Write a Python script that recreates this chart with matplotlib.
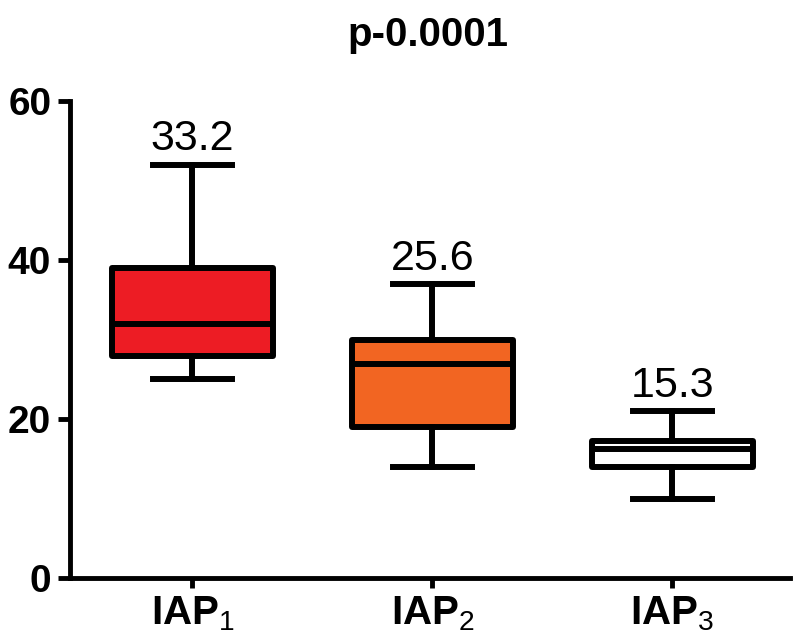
import numpy as np
import matplotlib
matplotlib.use("Agg")
import matplotlib.pyplot as plt

plt.rcParams['font.family'] = ['Liberation Sans', 'DejaVu Sans']
plt.rcParams['mathtext.fontset'] = 'custom'
plt.rcParams['mathtext.rm'] = 'Liberation Sans'
plt.rcParams['mathtext.bf'] = 'Liberation Sans:bold'

groups = [r'$\mathbf{IAP}_{1}$', r'$\mathbf{IAP}_{2}$', r'$\mathbf{IAP}_{3}$']
whislo = [25, 14, 10]
q1 = [28, 19, 14]
med = [32, 27, 16.3]
q3 = [39, 30, 17.2]
whishi = [52, 37, 21]
means = [33.2, 25.6, 15.3]
colors = ['#ED1C24', '#F26522', '#FFFFFF']

stats = []
for i in range(3):
    stats.append(dict(whislo=whislo[i], q1=q1[i], med=med[i], q3=q3[i], whishi=whishi[i]))

fig = plt.figure(figsize=(8, 6.41), dpi=100)
ax = fig.add_axes([0.0875, 0.098, 0.9, 0.744])

lw = 4.3
bp = ax.bxp(stats, positions=[1, 2, 3], widths=0.67, patch_artist=True, showfliers=False,
            boxprops=dict(linewidth=lw, edgecolor='black'),
            medianprops=dict(color='black', linewidth=lw),
            whiskerprops=dict(color='black', linewidth=lw),
            capprops=dict(color='black', linewidth=lw), capwidths=0.33)
for patch, c in zip(bp['boxes'], colors):
    patch.set_facecolor(c)
    patch.set_joinstyle('round')

for i in range(3):
    ax.annotate(f"{means[i]}", (i + 1, whishi[i]), xytext=(0, 4), textcoords='offset points',
                ha='center', va='bottom', fontsize=31)

ax.set_xlim(0.49, 3.49)
ax.set_ylim(0, 60)
ax.set_yticks([0, 20, 40, 60])
ax.set_xticks([1, 2, 3])
ax.set_xticklabels(groups)

for s in ['top', 'right']:
    ax.spines[s].set_visible(False)
for s in ['left', 'bottom']:
    ax.spines[s].set_linewidth(3.5)
ax.tick_params(axis='y', length=8.5, width=3.5, labelsize=28, pad=5)
ax.tick_params(axis='x', length=7, width=3.5, labelsize=29, pad=5)
for lab in ax.get_yticklabels():
    lab.set_fontweight('bold')

fig.suptitle('p-0.0001', fontsize=29, fontweight='bold', x=0.535, y=0.975)

fig.savefig('out.png', dpi=100)
